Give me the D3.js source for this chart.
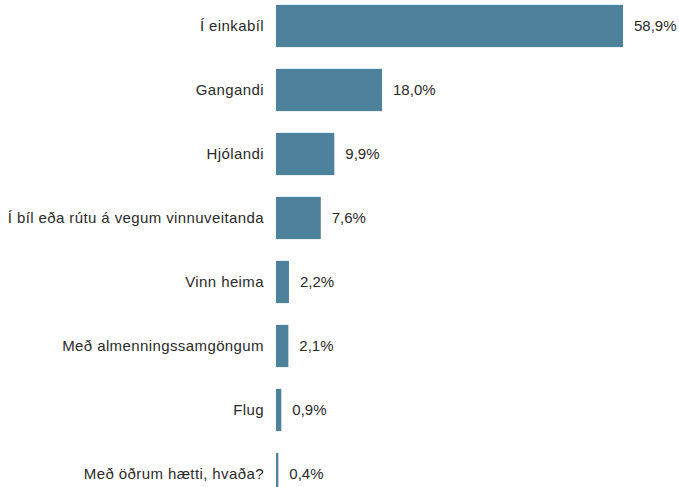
<!DOCTYPE html>
<html><head><meta charset="utf-8">
<script src="https://cdn.jsdelivr.net/npm/d3@7"></script>
<style>body{margin:0;background:#fff}svg{display:block}</style>
</head><body>
<script>
const categories = ["Í einkabíl","Gangandi","Hjólandi","Í bíl eða rútu á vegum vinnuveitanda","Vinn heima","Með almenningssamgöngum","Flug","Með öðrum hætti, hvaða?"];
const values = [58.9,18.0,9.9,7.6,2.2,2.1,0.9,0.4];
const valueLabels = ["58,9%","18,0%","9,9%","7,6%","2,2%","2,1%","0,9%","0,4%"];

const W=679,H=487;
const svg=d3.select("body").append("svg").attr("width",W).attr("height",H);
const x=d3.scaleLinear().domain([0,58.9]).range([276,623]);
const y=d3.scaleBand().domain(categories).range([-6,506]).paddingInner(0.34).paddingOuter(0.17);
const data=categories.map((c,i)=>({c,v:values[i],l:valueLabels[i]}));
svg.selectAll("rect").data(data).join("rect")
  .attr("x",x(0)).attr("y",d=>y(d.c)).attr("width",d=>x(d.v)-x(0)).attr("height",y.bandwidth())
  .attr("fill","#4e829c");
svg.selectAll("text.cat").data(data).join("text").attr("class","cat")
  .attr("x",264).attr("y",d=>y(d.c)+y.bandwidth()/2).attr("dy","0.35em")
  .attr("text-anchor","end").attr("font-family","Liberation Sans, Arial, sans-serif").attr("font-size",15)
  .attr("letter-spacing","0.4px")
  .attr("fill","#2a2a2a").text(d=>d.c);
svg.selectAll("text.val").data(data).join("text").attr("class","val")
  .attr("x",d=>x(d.v)+11).attr("y",d=>y(d.c)+y.bandwidth()/2).attr("dy","0.35em")
  .attr("font-family","Liberation Sans, Arial, sans-serif").attr("font-size",15)
  .attr("fill","#2a2a2a").text(d=>d.l);
</script>
</body></html>
